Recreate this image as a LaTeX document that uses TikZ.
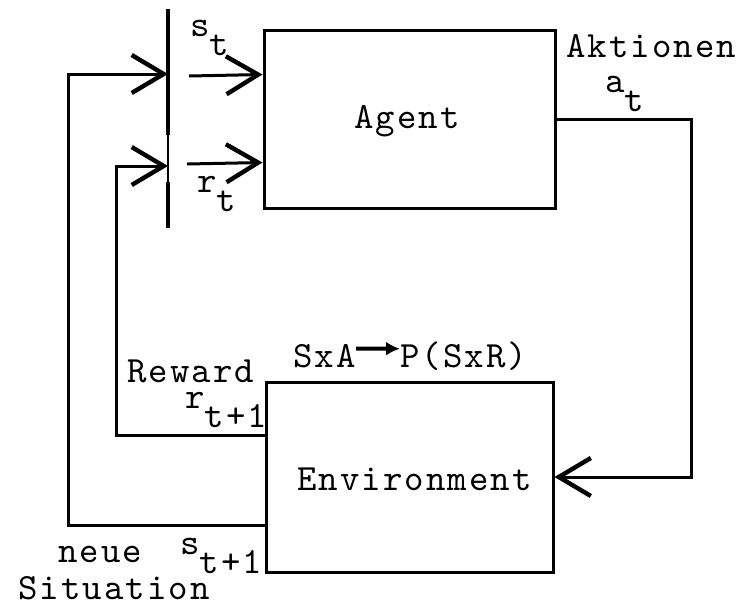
\documentclass[tikz,border=0pt]{standalone}
\usepackage{fontspec}
\usetikzlibrary{arrows.meta,calc}
\newfontfamily\courtt{lmmono10-regular.otf}[LetterSpace=5.5]
\newcommand\lowsub[2]{#1\raisebox{-0.52em}{#2}}
\tikzset{
  txt/.style={font=\courtt\fontsize{18.5}{20}\selectfont, inner sep=0pt, anchor=base west},
  box/.style={draw, line width=1.5pt, rectangle, inner sep=0pt},
  barb/.style={line width=1.5pt, -{Straight Barb[length=16pt,width=19pt,line width=2.2pt]}}
}
\begin{document}
\begin{tikzpicture}[x=0.5pt,y=-0.5pt]
  \useasboundingbox (0,0) rectangle (745,607);
  % the two blocks
  \node[box, minimum width=145.5pt, minimum height=89pt] (agent) at (409.5,119) {};
  \node[box, minimum width=143.5pt, minimum height=95pt] (env) at (409.5,477) {};
  \node[txt] (agentlbl) at (354,128) {Agent};
  \node[txt] (envlbl) at (297,490) {Environment};
  % switch bar
  \coordinate (bartop) at (168,9);
  \coordinate (barmid) at (168,135);
  \coordinate (barlow) at (168,182);
  \coordinate (barbot) at (168,228);
  \draw[line width=2.2pt] (bartop) -- (barmid);
  \draw[line width=1pt] (barmid) -- (barlow);
  \draw[line width=2.4pt] (barlow) -- (barbot);
  \coordinate (sin) at (168,74);
  \coordinate (rin) at (168,166);
  \coordinate (sout) at (189,76);
  \coordinate (rout) at (187,164);
  % into the agent
  \draw[barb] (sout) -- ($(agent.north west)+(0,46)$);
  \draw[barb] (rout) -- ($(agent.north west)+(0,134)$);
  % action loop
  \draw[barb] (agent.east) -- ++(135,0) |- (env.east);
  % reward back
  \draw[barb] ($(env.north west)+(0,55)$) -- ++(-148,0) |- (rin);
  % new situation back
  \draw[barb] ($(env.north west)+(0,145)$) -- ++(-196,0) |- (sin);
  % labels
  \node[txt] (st) at (190,36) {\lowsub{s}{t}};
  \node[txt] (rt) at (197,192) {\lowsub{r}{t}};
  \node[txt] (akt) at (566,57) {Aktionen};
  \node[txt] (at) at (605,92) {\lowsub{a}{t}};
  \node[txt] (sxa) at (293,367) {SxA};
  \node[txt] (psxr) at (400,367) {P(SxR)};
  \draw[line width=2pt, -{Latex[length=7pt,width=7pt]}] (sxa.east) ++(0,-7) -- ($(psxr.west)+(0,-7)$);
  \node[txt] (rew) at (127,382) {Reward};
  \node[txt] (rt1) at (185,408) {\lowsub{r}{t+1}};
  \node[txt] (neue) at (58,562) {neue};
  \node[txt] (st1) at (180,554) {\lowsub{s}{t+1}};
  \node[txt] (sit) at (18,599) {Situation};
\end{tikzpicture}
\end{document}
